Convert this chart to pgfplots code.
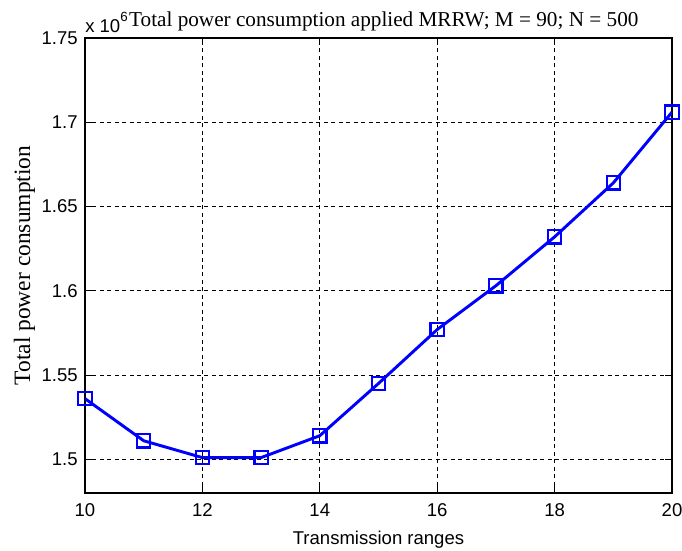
\documentclass[border=0pt]{standalone}
\usepackage{fontspec}
\setmainfont{Liberation Serif}
\newfontfamily\arialfont{Liberation Sans}
\usepackage{pgfplots}
\pgfplotsset{compat=1.18}

\begin{document}
\begin{tikzpicture}
\begin{axis}[
  name=ax,
  at={(0pt,0pt)}, anchor=south west,
  scale only axis,
  width=440.25pt, height=341.25pt,
  xmin=10, xmax=20,
  ymin=1.48, ymax=1.75,
  xtick={10,12,...,20},
  ytick={1.5,1.55,1.6,1.65,1.7,1.75},
  /pgf/number format/assume math mode=true,
  /pgf/number format/fixed,
  /pgf/number format/precision=2,
  scaled y ticks=false,
  ticklabel style={font=\arialfont\fontsize{13.9}{16}\selectfont},
  xticklabel style={yshift=-4.5pt},
  yticklabel style={xshift=-2pt},
  tick align=inside,
  major tick length=5pt,
  tick style={black, line width=0.6pt},
  axis line style={black, line width=1pt},
  grid=major,
  major grid style={black, line width=0.5pt, dash pattern=on 3pt off 2.6pt},
  xlabel={Transmission ranges},
  xlabel style={font=\arialfont\fontsize{13.9}{16}\selectfont, yshift=-3.5pt},
  ylabel={Total power consumption},
  ylabel style={font=\fontsize{17.6}{20}\selectfont, yshift=-2pt},
  title={Total power consumption applied MRRW; M = 90; N = 500},
  title style={font=\fontsize{15.9}{18}\selectfont, yshift=-4.5pt, xshift=4pt},
]
\addplot[color={rgb,255:red,0;green,0;blue,255}, line width=2.2pt,
         mark=square, mark size=5pt,
         mark options={line width=1.7pt, solid, fill=none}]
  coordinates {
    (10,1.536) (11,1.511) (12,1.501) (13,1.501) (14,1.514)
    (15,1.545) (16,1.577) (17,1.603) (18,1.632) (19,1.664) (20,1.706)
  };
\end{axis}
% exponent of the y axis
\node[anchor=south west, inner sep=0pt, font=\arialfont\fontsize{13.9}{16}\selectfont]
  at ([yshift=4pt]ax.north west) {x 10\raisebox{0.6em}{\fontsize{10}{12}\selectfont 6}};
\pgfresetboundingbox
\path (-63.75pt,-42.75pt) rectangle (447.75pt,369.75pt);
\end{tikzpicture}
\end{document}
